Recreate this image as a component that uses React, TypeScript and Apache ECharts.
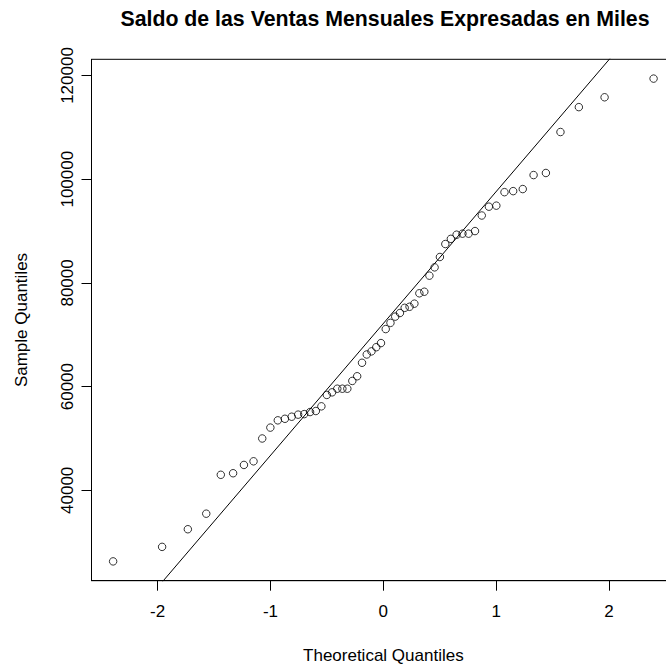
import React, { useEffect, useRef } from "react";
import * as echarts from "echarts";

// Theoretical normal quantiles (x) for the 60 sorted observations
const theoreticalQuantiles = [
  -2.394, -1.96, -1.732, -1.569, -1.44, -1.331, -1.235, -1.15, -1.073, -1.001,
  -0.935, -0.872, -0.812, -0.755, -0.701, -0.649, -0.598, -0.549, -0.501, -0.454,
  -0.408, -0.363, -0.319, -0.275, -0.232, -0.189, -0.147, -0.105, -0.063, -0.021,
  0.021, 0.063, 0.105, 0.147, 0.189, 0.232, 0.275, 0.319, 0.363, 0.408,
  0.454, 0.501, 0.549, 0.598, 0.649, 0.701, 0.755, 0.812, 0.872, 0.935,
  1.001, 1.073, 1.15, 1.235, 1.331, 1.44, 1.569, 1.732, 1.96, 2.394,
];

// Sample quantiles (y)
const sampleQuantiles = [
  26300, 29100, 32500, 35500, 43000, 43300, 44900, 45600, 50000, 52100,
  53500, 53800, 54200, 54600, 54700, 55100, 55300, 56200, 58400, 58900,
  59600, 59600, 59600, 61100, 62000, 64600, 66200, 66800, 67600, 68400,
  71100, 72300, 73500, 74200, 75200, 75400, 76000, 78000, 78300, 81400,
  83000, 85000, 87500, 88500, 89300, 89500, 89500, 90000, 93000, 94700,
  94900, 97500, 97700, 98100, 100800, 101200, 109100, 113900, 115800, 119400,
];

const xTicks = [-2, -1, 0, 1, 2];
const yTicks = [40000, 60000, 80000, 100000, 120000];

// Reference line (qqline)
const qqIntercept = 72180;
const qqSlope = 25450;

const titleText = "Saldo de las Ventas Mensuales Expresadas en Miles";
const xName = "Theoretical Quantiles";
const yName = "Sample Quantiles";

const FONT = "Liberation Sans, Arial, sans-serif";

export default function App() {
  const ref = useRef<HTMLDivElement>(null);

  useEffect(() => {
    if (!ref.current) return;
    const chart = echarts.init(ref.current, null, { renderer: "svg" });

    const xAbs = Math.max(...theoreticalQuantiles.map((v) => Math.abs(v)));
    const xMin = -xAbs * 1.08;
    const xMax = xAbs * 1.08;
    const yLo = Math.min(...sampleQuantiles);
    const yHi = Math.max(...sampleQuantiles);
    const pad = (yHi - yLo) * 0.04;
    const yMin = yLo - pad;
    const yMax = yHi + pad;

    const points = theoreticalQuantiles.map((x, i) => [x, sampleQuantiles[i]]);
    const linePts = [
      [xMin, qqIntercept + qqSlope * xMin],
      [xMax, qqIntercept + qqSlope * xMax],
    ];

    const labelStyle = { fontFamily: FONT, fontSize: 17, color: "#000" };

    chart.setOption({
      animation: false,
      title: {
        text: titleText,
        left: 380,
        top: 3,
        textAlign: "center",
        textStyle: { fontFamily: FONT, fontSize: 21.3, fontWeight: "bold", color: "#000" },
      },
      grid: {
        left: 91.5,
        top: 59.3,
        width: 583.7,
        height: 521.4,
        containLabel: false,
        outerBoundsMode: "none",
        show: true,
        borderColor: "#000",
        borderWidth: 1,
        backgroundColor: "transparent",
      },
      xAxis: {
        type: "value",
        min: xMin,
        max: xMax,
        name: xName,
        nameLocation: "middle",
        nameGap: 66,
        nameTextStyle: labelStyle,
        axisLine: { show: true, onZero: false, lineStyle: { color: "#000", width: 1 } },
        axisTick: { show: true, inside: false, length: 10, customValues: xTicks, lineStyle: { color: "#000", width: 1 } },
        axisLabel: { ...labelStyle, margin: 22, customValues: xTicks, formatter: (v: number) => String(v) },
        splitLine: { show: false },
      },
      yAxis: {
        type: "value",
        min: yMin,
        max: yMax,
        name: yName,
        nameLocation: "middle",
        nameGap: 62,
        nameTextStyle: labelStyle,
        axisLine: { show: true, onZero: false, lineStyle: { color: "#000", width: 1 } },
        axisTick: { show: true, inside: false, length: 10, customValues: yTicks, lineStyle: { color: "#000", width: 1 } },
        axisLabel: { ...labelStyle, margin: 16, rotate: 90, customValues: yTicks, formatter: (v: number) => String(v) },
        splitLine: { show: false },
      },
      series: [
        {
          type: "line",
          data: linePts,
          showSymbol: false,
          clip: true,
          silent: true,
          lineStyle: { color: "#000", width: 1 },
        },
        {
          type: "scatter",
          data: points,
          symbol: "circle",
          symbolSize: 7.5,
          silent: true,
          itemStyle: { color: "rgba(0,0,0,0)", borderColor: "#000", borderWidth: 1 },
        },
      ],
    });

    return () => chart.dispose();
  }, []);

  return (
    <div
      ref={ref}
      style={{ position: "absolute", left: 0, top: 0, width: 666, height: 665 }}
    />
  );
}
